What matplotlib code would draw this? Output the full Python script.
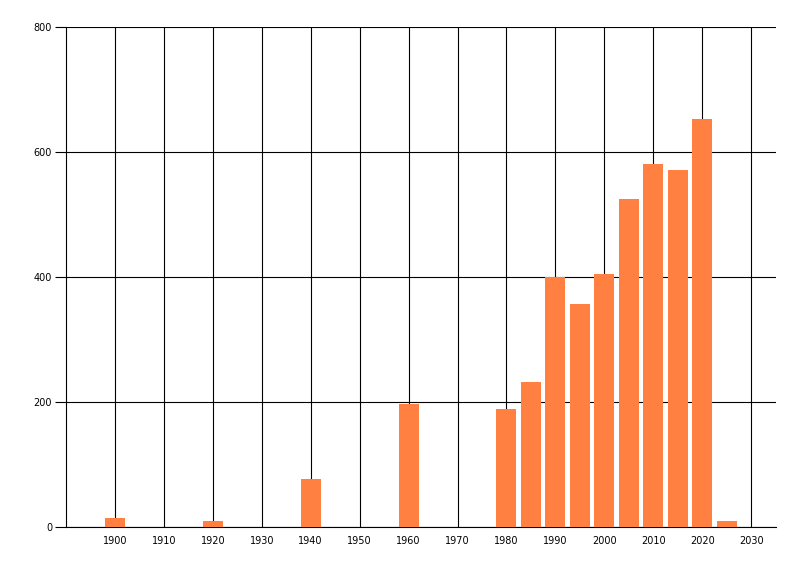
import matplotlib.pyplot as plt

years = [1900, 1920, 1940, 1960, 1980, 1985, 1990, 1995, 2000, 2005, 2010, 2015, 2020, 2025]
counts = [15, 10, 77, 197, 189, 232, 400, 358, 405, 525, 581, 571, 653, 10]
xticks = list(range(1900, 2031, 10))
yticks = [0, 200, 400, 600, 800]

fig = plt.figure(figsize=(8, 5.76), dpi=100)
ax = fig.add_axes([0.0825, 0.0845, 0.887, 0.868])

ax.bar(years, counts, width=4.1, color="#FF8040", zorder=3)

ax.set_xlim(1890, 2035)
ax.set_ylim(0, 800)
ax.set_xticks(xticks)
ax.set_yticks(yticks)
ax.grid(True, color="black", linewidth=0.8, zorder=0)
ax.spines["top"].set_visible(False)
ax.spines["right"].set_visible(False)
ax.spines["left"].set_linewidth(0.8)
ax.spines["bottom"].set_linewidth(0.8)
ax.tick_params(axis="y", length=8, width=0.8, pad=2, labelsize=7)
ax.tick_params(axis="x", length=0, pad=6, labelsize=7)

plt.savefig("out.png")
